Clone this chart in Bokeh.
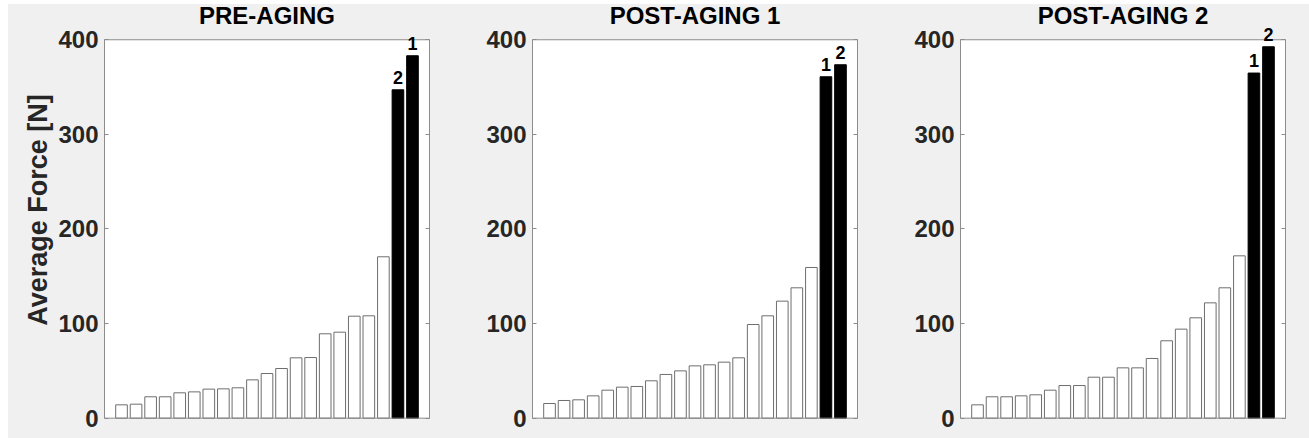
from bokeh.plotting import figure
from bokeh.models import (Range1d, LinearAxis, ColumnDataSource, Label, FixedTicker,
                          BoxAnnotation, Span)
from bokeh.layouts import row
from bokeh.embed import file_html
from bokeh.resources import INLINE

titles = ["PRE-AGING", "POST-AGING 1", "POST-AGING 2"]
pre_aging = [14.1, 14.8, 22.6, 22.6, 26.8, 27.8, 30.7, 31.0, 32.1, 40.5, 47.2,
             52.5, 63.8, 64.1, 89.2, 90.9, 107.8, 108.2, 170.6, 347.1, 383.1]
post_aging_1 = [15.5, 18.7, 19.4, 23.6, 29.6, 32.8, 33.5, 39.5, 46.2, 50.0, 55.3,
                56.4, 59.2, 63.8, 99.0, 108.2, 123.7, 137.8, 159.3, 360.9, 373.6]
post_aging_2 = [14.1, 22.6, 22.6, 23.6, 24.7, 29.6, 34.5, 34.5, 43.3, 43.3, 53.2,
                53.2, 63.1, 81.8, 94.1, 106.1, 121.9, 137.8, 171.6, 364.8, 392.6]
series = [pre_aging, post_aging_1, post_aging_2]
highlight_labels = [["2", "1"], ["1", "2"], ["1", "2"]]
y_ticks = [0, 100, 200, 300, 400]

FONT = "Liberation Sans"
BG = "#f0f0f0"
FRAME = "#8c8c8c"
TXT = "#262626"
Y_MIN, Y_MAX = y_ticks[0], y_ticks[-1]
Y_LO, Y_HI = -1.4, 441.5          # frame range (extends above the axes box)
FIG_H, BORDER_B = 438, 19

figs = []
for i, (ttl, vals, labs) in enumerate(zip(titles, series, highlight_labels)):
    n = len(vals)
    xs = list(range(1, n + 1))
    nh = len(labs)
    fills = ["white"] * (n - nh) + ["black"] * nh
    lines = ["#6e6e6e"] * (n - nh) + ["black"] * nh
    last = i == len(titles) - 1
    xr = Range1d(-0.17, n + 1.17)
    p = figure(width=445 if last else 428, height=FIG_H, title=None,
               x_range=xr, y_range=Range1d(Y_LO, Y_HI),
               output_backend="svg", toolbar_location=None,
               min_border_left=96, min_border_right=24 if last else 7,
               min_border_top=0, min_border_bottom=BORDER_B,
               background_fill_color=None, border_fill_color=None,
               outline_line_color=None)
    p.grid.visible = False
    p.xaxis.visible = False

    # white axes box with its frame
    p.add_layout(BoxAnnotation(bottom=Y_MIN, top=Y_MAX, fill_color="white", fill_alpha=1,
                               line_color=None, level="underlay"))
    p.add_layout(Span(location=Y_MAX, dimension="width", line_color=FRAME, line_width=1))
    p.add_layout(Span(location=Y_MIN, dimension="width", line_color=FRAME, line_width=1))

    ya = p.yaxis[0]
    ya.bounds = (Y_MIN, Y_MAX)
    ya.ticker = FixedTicker(ticks=y_ticks)
    ya.major_tick_in = 4
    ya.major_tick_out = 0
    ya.minor_tick_line_color = None
    ya.axis_line_color = FRAME
    ya.major_tick_line_color = FRAME
    ya.major_label_text_font = FONT
    ya.major_label_text_font_size = "24px"
    ya.major_label_text_font_style = "bold"
    ya.major_label_text_color = TXT
    ya.major_label_standoff = 6
    if i == 0:
        ya.axis_label = "Average Force [N]"
        ya.axis_label_text_font = FONT
        ya.axis_label_text_font_size = "27px"
        ya.axis_label_text_font_style = "bold"
        ya.axis_label_text_color = TXT
        ya.axis_label_standoff = 2

    ra = LinearAxis(ticker=FixedTicker(ticks=y_ticks), bounds=(Y_MIN, Y_MAX),
                    major_tick_in=4, major_tick_out=0,
                    minor_tick_line_color=None, axis_line_color=FRAME,
                    major_tick_line_color=FRAME, major_label_text_font_size="1px",
                    major_label_text_color=None, major_label_standoff=0)
    p.add_layout(ra, "right")

    src = ColumnDataSource(dict(x=xs, top=vals, fill=fills, line=lines))
    p.vbar(x="x", top="top", bottom=0, width=0.8, source=src,
           fill_color="fill", line_color="line", line_width=1)

    for xv, yv, t in zip(xs[n - nh:], vals[n - nh:], labs):
        p.add_layout(Label(x=xv, y=yv, y_offset=6, text=t,
                           text_align="center", text_baseline="bottom",
                           text_font=FONT, text_font_size="18px",
                           text_font_style="bold", text_color="black"))

    # panel title
    p.add_layout(Label(x=(xr.start + xr.end) / 2, y=Y_MAX, y_offset=11, text=ttl,
                       text_align="center", text_baseline="bottom",
                       text_font=FONT, text_font_size="24px",
                       text_font_style="bold", text_color="black"))
    figs.append(p)

layout = row(*figs, spacing=0, margin=(0, 0, 0, 8),
             styles={"background": f"linear-gradient(to bottom, white 0px, white 4px, {BG} 4px)"})
with open("out.html", "w") as f:
    f.write(file_html(layout, INLINE))
